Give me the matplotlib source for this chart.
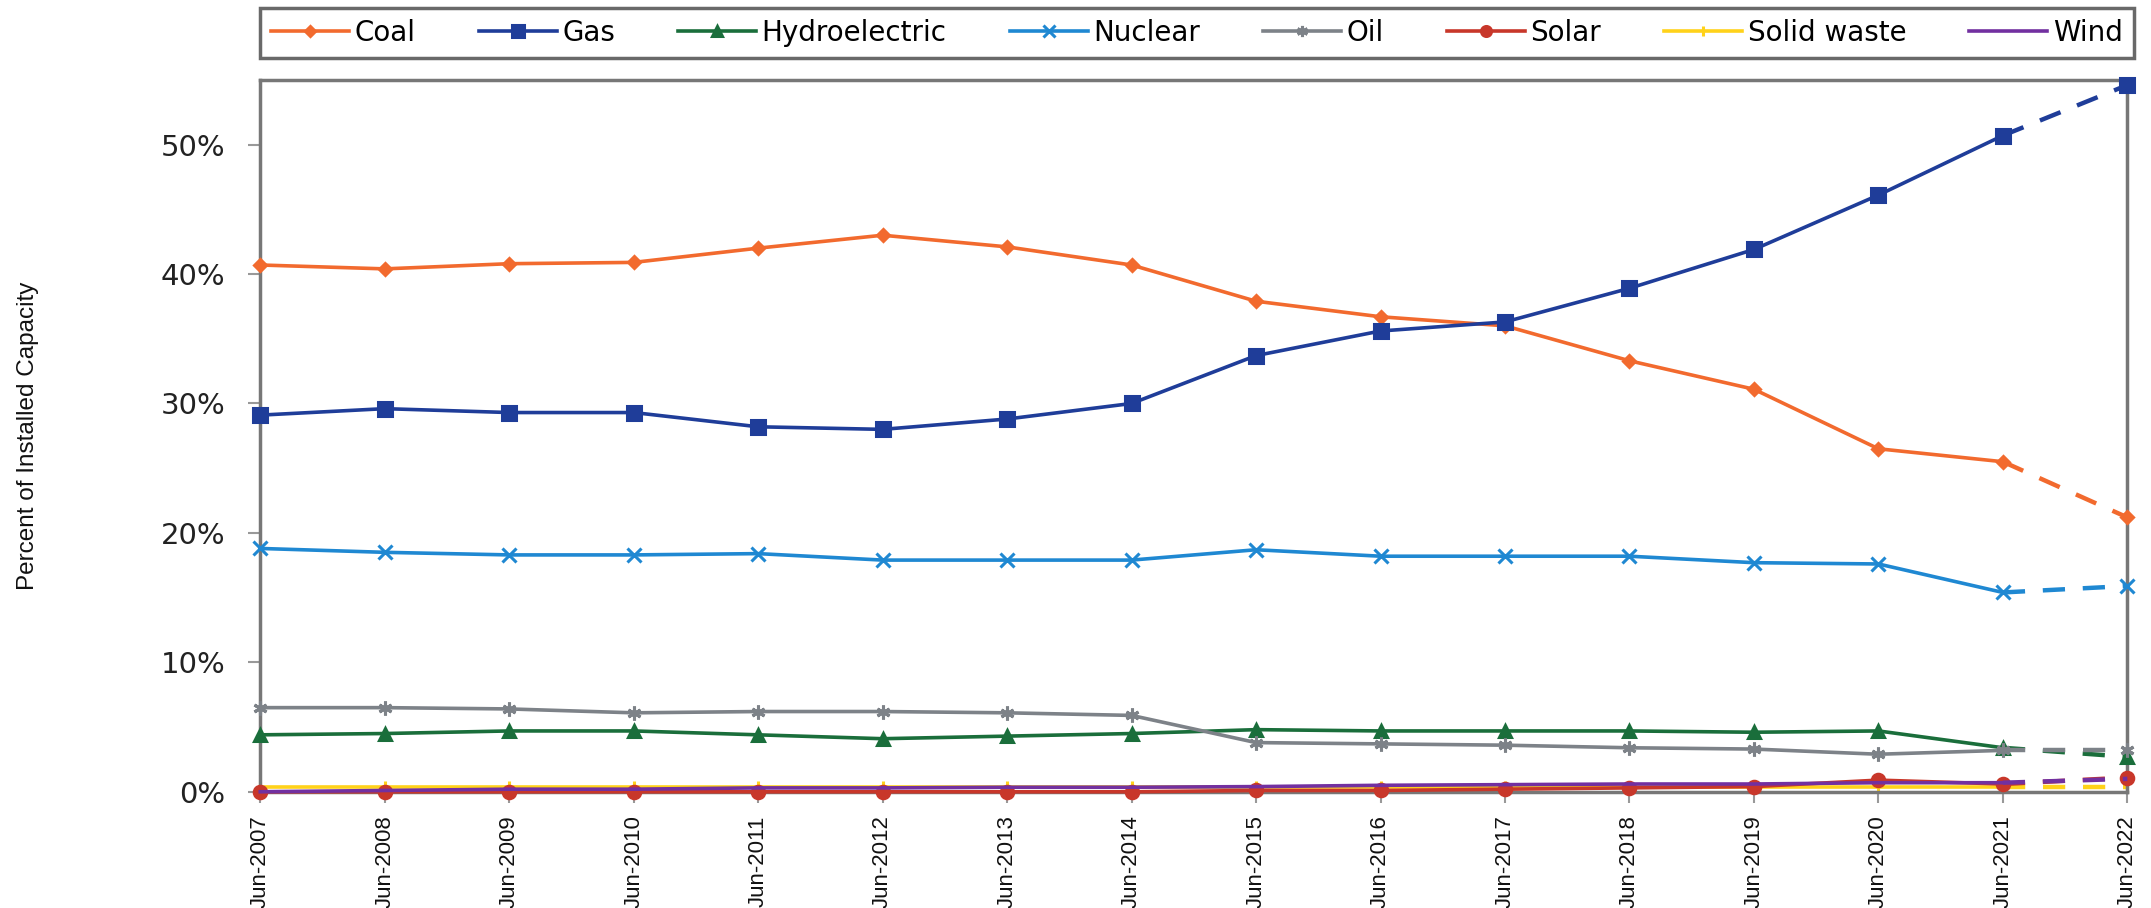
import numpy as np
import matplotlib
matplotlib.use('Agg')
import matplotlib.pyplot as plt
from matplotlib import font_manager

years = [2007, 2008, 2009, 2010, 2011, 2012, 2013, 2014,
         2015, 2016, 2017, 2018, 2019, 2020, 2021, 2022]
tick_labels = ['Jun-%d' % y for y in years]

coal = [40.7, 40.4, 40.8, 40.9, 42.0, 43.0, 42.1, 40.7, 37.9, 36.7, 36.0, 33.3, 31.1, 26.5, 25.5, 21.2]
gas = [29.1, 29.6, 29.3, 29.3, 28.2, 28.0, 28.8, 30.0, 33.7, 35.6, 36.3, 38.9, 41.9, 46.1, 50.7, 54.6]
hydro = [4.4, 4.5, 4.7, 4.7, 4.4, 4.1, 4.3, 4.5, 4.8, 4.7, 4.7, 4.7, 4.6, 4.7, 3.4, 2.7]
nuclear = [18.8, 18.5, 18.3, 18.3, 18.4, 17.9, 17.9, 17.9, 18.7, 18.2, 18.2, 18.2, 17.7, 17.6, 15.4, 15.9]
oil = [6.5, 6.5, 6.4, 6.1, 6.2, 6.2, 6.1, 5.9, 3.8, 3.7, 3.6, 3.4, 3.3, 2.9, 3.2, 3.2]
solar = [0.0, 0.0, 0.0, 0.0, 0.0, 0.0, 0.0, 0.0, 0.1, 0.1, 0.2, 0.3, 0.4, 0.9, 0.6, 1.1]
solid_waste = [0.4, 0.4, 0.4, 0.4, 0.4, 0.4, 0.4, 0.4, 0.4, 0.4, 0.4, 0.4, 0.4, 0.4, 0.4, 0.4]
wind = [0.0, 0.1, 0.2, 0.2, 0.3, 0.3, 0.35, 0.35, 0.4, 0.5, 0.55, 0.6, 0.6, 0.7, 0.7, 1.0]

names = ['Coal', 'Gas', 'Hydroelectric', 'Nuclear', 'Oil', 'Solar', 'Solid waste', 'Wind']
series = [coal, gas, hydro, nuclear, oil, solar, solid_waste, wind]
colors = ['#F26A2E', '#1F3D99', '#1A6E3B', '#1F88D2', '#7D8288', '#C8372A', '#FFD21A', '#7230A0']
markers = ['D', 's', '^', 'x', (6, 2, 0), 'o', '|', None]
msizes = [6, 10, 9, 10, 10, 9, 9, 0]
zord = [5, 6, 4, 5, 4, 3, 2, 3]

# narrow font for the rotated labels if it exists, otherwise plain Liberation Sans a bit smaller
installed = {f.name for f in font_manager.fontManager.ttflist}
if 'Liberation Sans Narrow' in installed:
    rot_font, xt_size, yl_size = 'Liberation Sans Narrow', 19, 20
else:
    rot_font, xt_size, yl_size = 'Liberation Sans', 16, 17.5

plt.rcParams['font.family'] = ['DejaVu Sans']

fig = plt.figure(figsize=(21.51, 9.08), dpi=100)
ax = fig.add_axes([0.121, 0.128, 0.868, 0.784])

x = np.arange(len(years))
handles = []
for name, vals, c, m, ms, z in zip(names, series, colors, markers, msizes, zord):
    vals = np.array(vals)
    h, = ax.plot(x[:-1], vals[:-1], color=c, lw=2.6, marker=m, ms=ms, mew=2.2,
                 zorder=z, clip_on=False, label=name)
    ax.plot(x[-2:], vals[-2:], color=c, lw=3.2, ls=(0, (5, 4)), zorder=z, clip_on=False)
    ax.plot(x[-1:], vals[-1:], color=c, lw=0, marker=m, ms=ms, mew=2.2, zorder=z, clip_on=False)
    handles.append(h)

ax.set_xlim(0, 15)
ax.set_ylim(0, 55)
ax.set_yticks([0, 10, 20, 30, 40, 50])
ax.set_yticklabels(['%d%%' % v for v in [0, 10, 20, 30, 40, 50]], fontsize=21, color='#222222')
ax.set_xticks(x)
ax.set_xticklabels(tick_labels, rotation=90, fontsize=xt_size, family=rot_font, color='#111111')
ax.tick_params(axis='y', length=9, width=1.5, color='#999999', pad=16)
ax.tick_params(axis='x', length=8, width=1.5, color='#999999', pad=9)

for s in ax.spines.values():
    s.set_color('#777777')
    s.set_linewidth(2.5)

fig.text(0.013, 0.52, 'Percent of Installed Capacity', rotation=90, va='center', ha='center',
         fontsize=yl_size, family=rot_font, color='#111111')

leg = fig.legend(handles=handles, loc='center', ncol=8, mode='expand',
                 bbox_to_anchor=(0.121, 0.932, 0.871, 0.064), fontsize=20,
                 handlelength=2.8, handletextpad=0.2, borderaxespad=0, fancybox=False,
                 frameon=True, markerscale=0.8)
leg.get_frame().set_edgecolor('#444444')
leg.get_frame().set_linewidth(2.5)

fig.savefig('out.png', dpi=100)
